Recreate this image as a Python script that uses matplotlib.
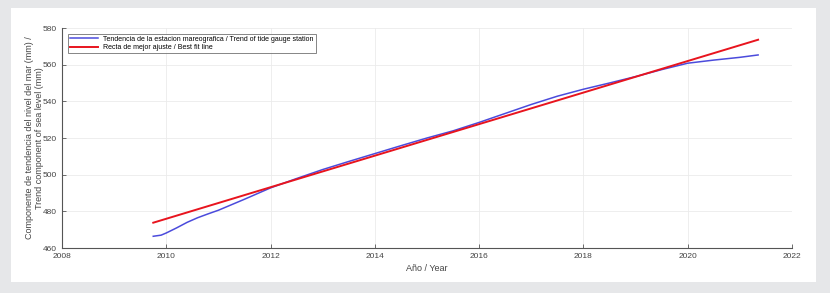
import matplotlib.pyplot as plt
from matplotlib.patches import Rectangle

plt.rcParams['font.family'] = ['Liberation Sans', 'DejaVu Sans']

# Tendencia de la estacion mareografica
years = [2009.75, 2009.9, 2010.0, 2010.2, 2010.4, 2010.6, 2010.8, 2011.0, 2011.5,
         2012.0, 2012.5, 2013.0, 2013.5, 2014.0, 2014.5, 2015.0, 2015.5, 2016.0,
         2016.5, 2017.0, 2017.5, 2018.0, 2018.5, 2019.0, 2019.5, 2020.0, 2020.5,
         2021.0, 2021.35]
trend = [466.4, 467.0, 468.2, 471.0, 474.0, 476.5, 478.6, 480.6, 486.6,
         492.8, 497.9, 502.8, 507.2, 511.5, 515.8, 520.0, 523.9, 528.5,
         533.4, 538.3, 542.8, 546.6, 550.0, 553.5, 557.3, 560.8, 562.5,
         564.0, 565.3]

# Recta de mejor ajuste
fit_years = [2009.75, 2021.35]
fit_vals = [473.8, 573.6]

fig = plt.figure(figsize=(8.3, 2.93), dpi=100)
fig.patch.set_facecolor('#e6e7e9')
panel = Rectangle((11/830, 1 - 282/293), 805/830, 274/293,
                  transform=fig.transFigure, facecolor='white',
                  edgecolor='none', zorder=-10)
fig.add_artist(panel)

ax = fig.add_axes([62/830, 1 - 248/293, 730/830, 220/293])
ax.set_zorder(1)
ax.set_facecolor('white')
ax.plot(years, trend, color='#4b4bdc', lw=1.1,
        label='Tendencia de la estacion mareografica / Trend of tide gauge station')
ax.plot(fit_years, fit_vals, color='#e8141e', lw=1.4,
        label='Recta de mejor ajuste / Best fit line')

ax.set_xlim(2008, 2022)
ax.set_ylim(460, 580)
ax.set_xticks(range(2008, 2023, 2))
ax.set_yticks(range(460, 581, 20))
ax.grid(True, color='#ebebeb', lw=0.6)
ax.set_axisbelow(True)
for s in ['top', 'right']:
    ax.spines[s].set_visible(False)
for s in ['left', 'bottom']:
    ax.spines[s].set_color('#555555')
    ax.spines[s].set_linewidth(0.8)
ax.tick_params(direction='in', length=3, width=0.6, colors='#555555',
               labelsize=6, labelcolor='#444444')

ax.set_xlabel('Año / Year', fontsize=6.5, color='#444444', labelpad=3)
ax.set_ylabel('Componente de tendencia del nivel del mar (mm) /\nTrend component of sea level (mm)',
              fontsize=6.5, color='#444444', labelpad=-1)

leg = ax.legend(loc='upper left', fontsize=5.0, frameon=True, fancybox=False,
                borderpad=0.3, handlelength=4.0, labelspacing=0.2,
                bbox_to_anchor=(0.003, 0.99))
leg.get_frame().set_edgecolor('#666666')
leg.get_frame().set_linewidth(0.7)

fig.savefig('out.png', dpi=100, facecolor=fig.get_facecolor())
